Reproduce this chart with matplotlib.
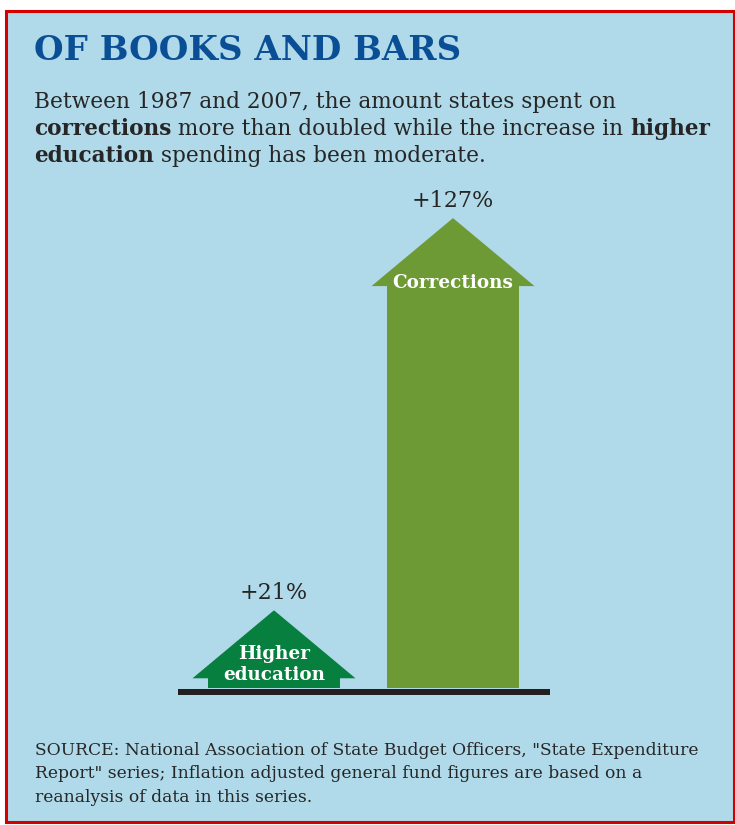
import numpy as np
import matplotlib.pyplot as plt
from matplotlib.patches import Rectangle

# data
categories = ['Higher\neducation', 'Corrections']
changes = [21, 127]
value_labels = ['+21%', '+127%']

title = 'OF BOOKS AND BARS'
subtitle = [
    [('Between 1987 and 2007, the amount states spent on', 'normal')],
    [('corrections', 'bold'), (' more than doubled while the increase in ', 'normal'), ('higher', 'bold')],
    [('education', 'bold'), (' spending has been moderate.', 'normal')],
]
source = [
    'SOURCE: National Association of State Budget Officers, "State Expenditure',
    'Report" series; Inflation adjusted general fund figures are based on a',
    'reanalysis of data in this series.',
]

# style
arrow_colors = ['#077f3f', '#6e9a35']
inner_offsets = [-39, -47]     # label centre below the tip, points
bg = '#b0daea'
ink = '#262626'
serif = 'DejaVu Serif'

W, H = 735, 825
fig = plt.figure(figsize=(W / 100, H / 100), dpi=100)
fig.patch.set_facecolor('white')


def fx(px):
    return px / W


def fy(py):
    return 1 - py / H


fig.patches.append(Rectangle((fx(6), fy(822)), fx(734) - fx(6), fy(11) - fy(822),
                             transform=fig.transFigure, facecolor=bg,
                             edgecolor='#d40000', linewidth=2.2, zorder=-1))

fig.text(fx(34), fy(60), title, ha='left', va='baseline', fontsize=24.5,
         fontweight='bold', color='#0a4f96', family=serif)

# subtitle with bold words, drawn piece by piece
renderer = fig.canvas.get_renderer()
for k, line in enumerate(subtitle):
    x = fx(34)
    y = fy(108 + 27 * k)
    for txt, w in line:
        t = fig.text(x, y, txt, ha='left', va='baseline', fontsize=15.6,
                     fontweight=w, color=ink, family=serif)
        x += t.get_window_extent(renderer).width / W

for k, line in enumerate(source):
    fig.text(fx(35), fy(755 + 23.5 * k), line, ha='left', va='baseline',
             fontsize=12.3, color=ink, family=serif)

# chart
ppu = 3.7          # pixels per percent
xppu = 179         # pixels per category step
ax = fig.add_axes([fx(178), fy(688), fx(550) - fx(178), fy(200) - fy(688)])
ax.set_xlim(-(274 - 178) / xppu, 1 + (550 - 453) / xppu)
ax.set_ylim(0, (688 - 200) / ppu)
ax.axis('off')

shaft_hw = 66 / xppu
head_hw = 81.5 / xppu
head_h = 68 / ppu

for i, v in enumerate(changes):
    xs = [i - shaft_hw, i - shaft_hw, i - head_hw, i, i + head_hw, i + shaft_hw, i + shaft_hw]
    ys = [0, v - head_h, v - head_h, v, v - head_h, v - head_h, 0]
    ax.fill(xs, ys, color=arrow_colors[i], lw=0, zorder=2)
    ax.annotate(value_labels[i], (i, v), xytext=(0, 8), textcoords='offset points',
                ha='center', va='baseline', fontsize=16, color=ink, family=serif)
    ax.annotate(categories[i], (i, v), xytext=(0, inner_offsets[i]),
                textcoords='offset points', ha='center', va='center',
                fontsize=13.2, fontweight='bold', color='white', family=serif,
                linespacing=1.25, zorder=3)

x0, x1 = ax.get_xlim()
ax.plot([x0, x1], [-0.95, -0.95], color='#231f20', lw=4.3,
        solid_capstyle='butt', clip_on=False, zorder=1)

fig.savefig('out.png', dpi=100, facecolor=fig.get_facecolor())
